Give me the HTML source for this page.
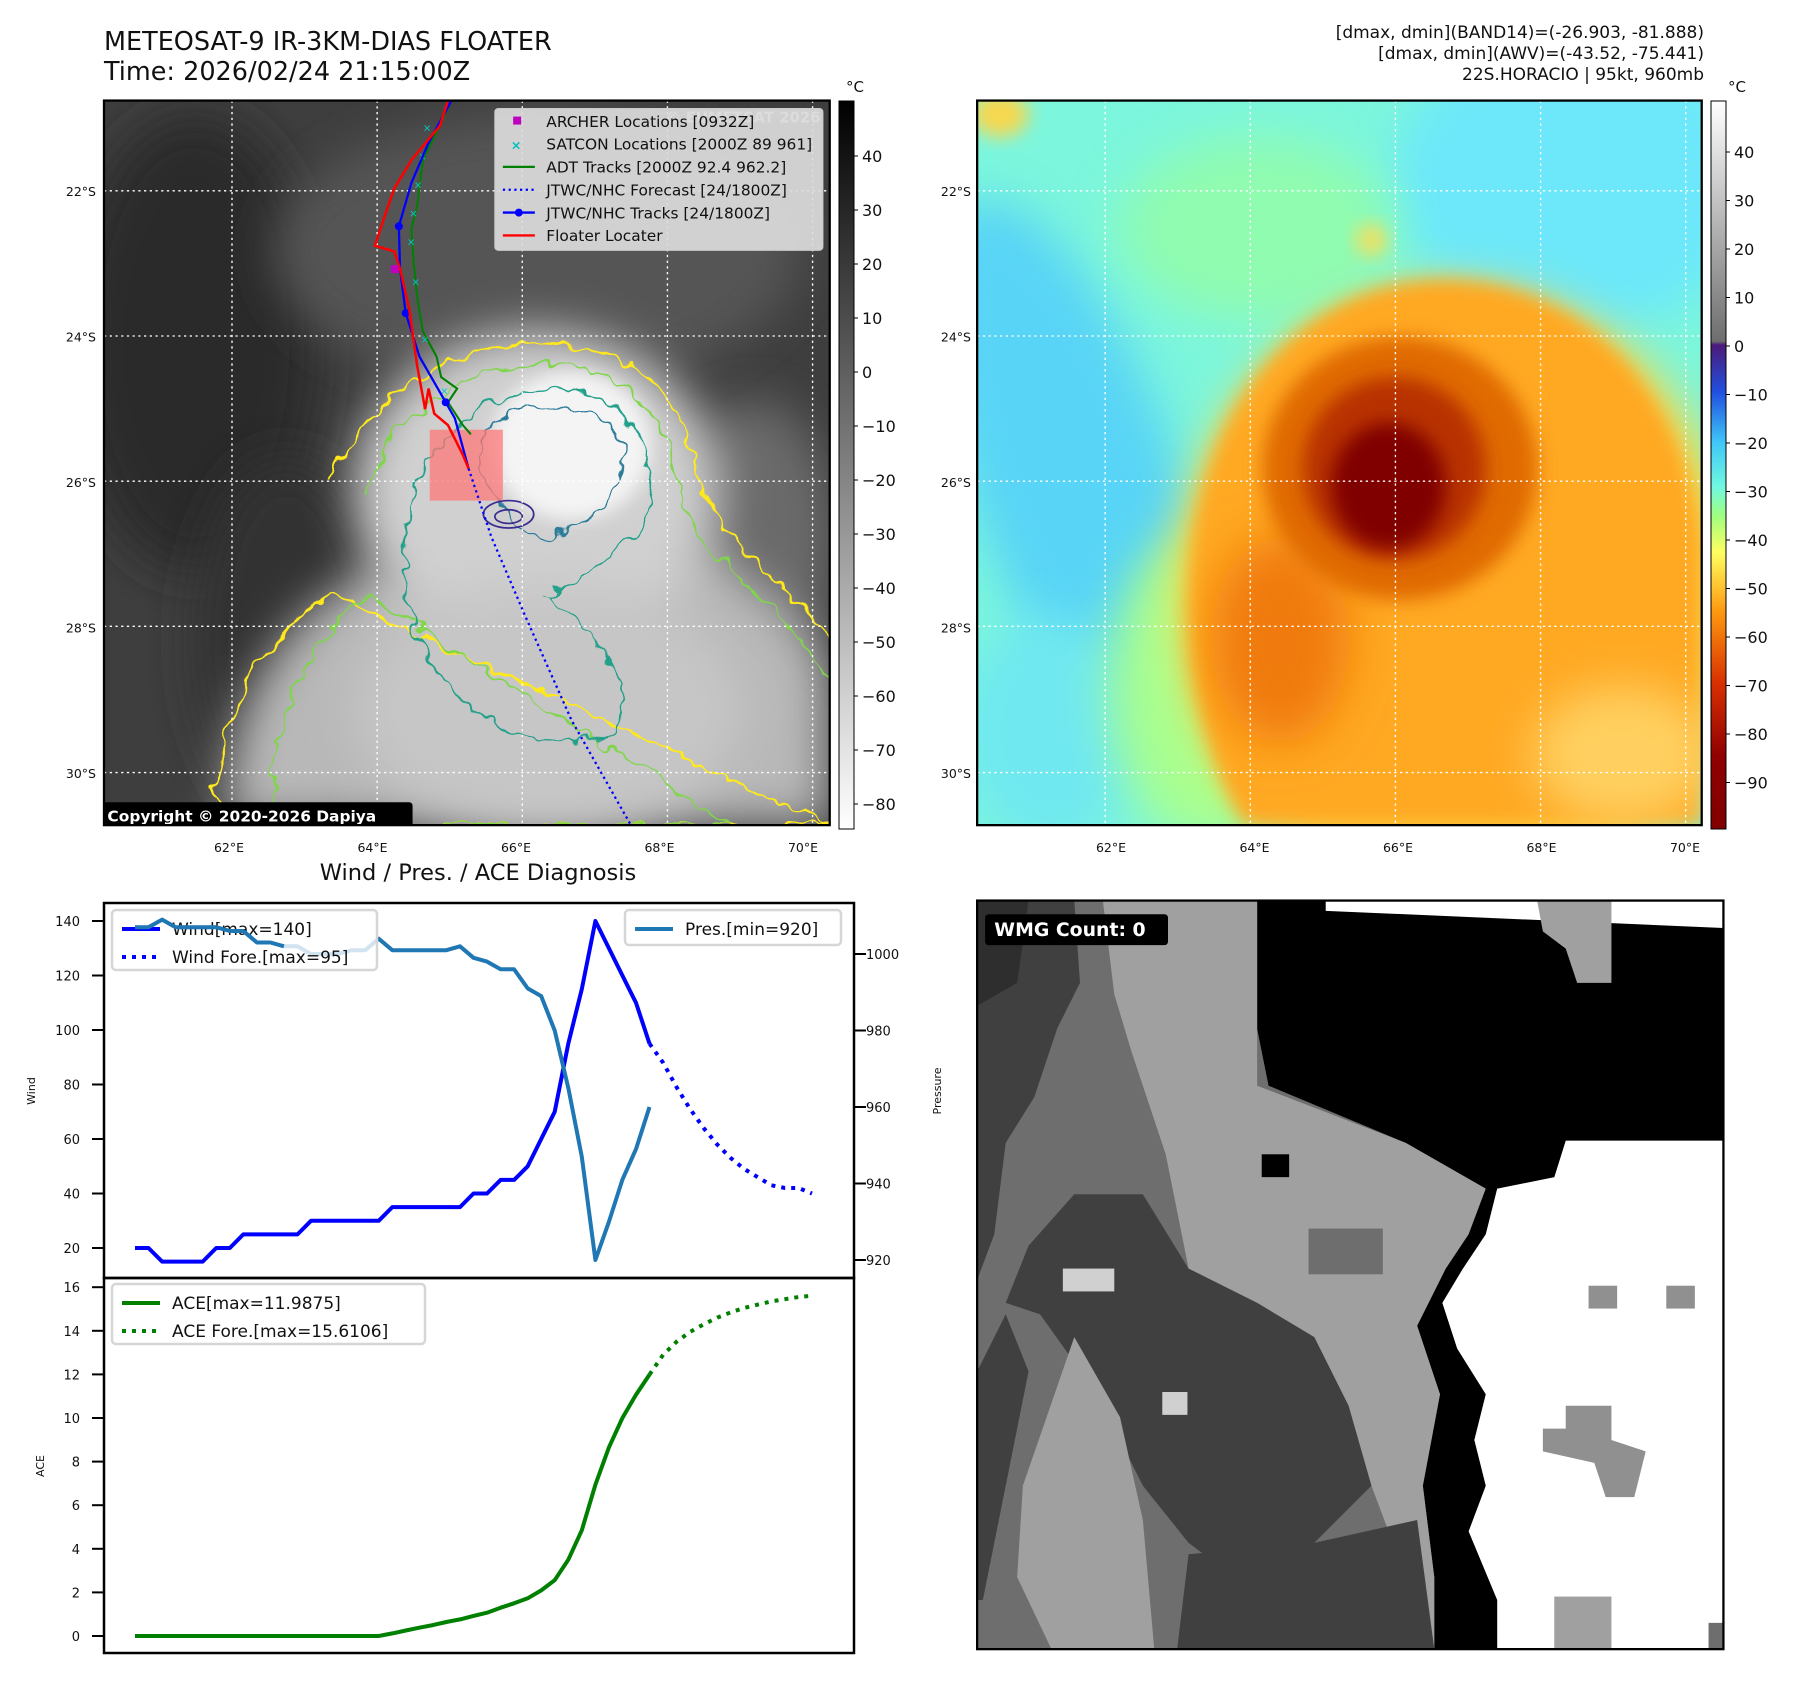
<!DOCTYPE html>
<html><head><meta charset="utf-8">
<style>
html,body{margin:0;padding:0;background:#fff;}
body{width:1797px;height:1690px;overflow:hidden;font-family:"Liberation Sans","DejaVu Sans",sans-serif;}
svg{position:absolute;left:0;top:0;}
text{font-family:"DejaVu Sans","Liberation Sans",sans-serif;}
</style></head>
<body>
<svg id="fig" width="1797" height="1690" viewBox="0 0 1797 1690">
<defs>
<filter id="blur8" x="-30%" y="-30%" width="160%" height="160%"><feGaussianBlur stdDeviation="8"/></filter>
<filter id="blur20" x="-30%" y="-30%" width="160%" height="160%"><feGaussianBlur stdDeviation="20"/></filter>
<filter id="wobble" x="-10%" y="-10%" width="120%" height="120%"><feTurbulence type="fractalNoise" baseFrequency="0.06" numOctaves="2" seed="3"/><feDisplacementMap in="SourceGraphic" scale="18" xChannelSelector="R" yChannelSelector="G"/></filter>
<clipPath id="clipL"><rect x="91" y="88" width="635" height="634"/></clipPath>
<clipPath id="clipR"><rect x="855" y="88" width="634" height="634"/></clipPath>
<clipPath id="clipB"><rect x="855" y="788" width="653" height="655"/></clipPath>
<linearGradient id="cbGray" x1="0" y1="0" x2="0" y2="1"><stop offset="0" stop-color="#000"/><stop offset="1" stop-color="#fff"/></linearGradient>
<linearGradient id="cbColor" x1="0" y1="0" x2="0" y2="1">
<stop offset="0" stop-color="#ffffff"/><stop offset="0.33" stop-color="#6e6e6e"/><stop offset="0.335" stop-color="#4b1a7a"/><stop offset="0.4" stop-color="#2050e0"/><stop offset="0.47" stop-color="#40c8f8"/><stop offset="0.53" stop-color="#70f8e0"/><stop offset="0.57" stop-color="#a0ff80"/><stop offset="0.62" stop-color="#ffff60"/><stop offset="0.7" stop-color="#ff9a10"/><stop offset="0.8" stop-color="#d83000"/><stop offset="0.9" stop-color="#900000"/><stop offset="1" stop-color="#800000"/></linearGradient>
</defs>

<g transform="scale(1.142857)">
 <g clip-path="url(#clipL)">
  <rect x="91" y="88" width="635" height="634" fill="#3e3e3e"/>
  <ellipse cx="170" cy="300" rx="110" ry="200" fill="#2c2c2c" filter="url(#blur20)"/>
  <ellipse cx="250" cy="560" rx="80" ry="160" fill="#333" filter="url(#blur20)"/>
  <ellipse cx="470" cy="220" rx="230" ry="120" fill="#555" filter="url(#blur20)"/>
  <ellipse cx="660" cy="470" rx="70" ry="120" fill="#6a6a6a" filter="url(#blur20)"/>
  <path d="M200,722 C190,620 250,540 320,500 L600,470 C680,520 726,560 726,600 L726,722 Z" fill="#b8b8b8" filter="url(#blur20)"/>
  <ellipse cx="470" cy="430" rx="160" ry="140" fill="#d0d0d0" filter="url(#blur20)"/>
  <ellipse cx="480" cy="620" rx="170" ry="110" fill="#c6c6c6" filter="url(#blur20)"/>
  <ellipse cx="500" cy="390" rx="70" ry="65" fill="#f4f4f4" filter="url(#blur8)"/>
  <g fill="none" filter="url(#wobble)">
   <path d="M290,420 C330,330 420,300 470,300 C560,300 600,350 610,420 C640,500 720,530 726,560 M726,722 L190,722 C180,650 220,560 290,520 Z" stroke="#ffe81a" stroke-width="2"/>
   <path d="M320,430 C350,345 430,318 475,318 C550,318 590,360 592,430 C620,500 700,540 726,600 M640,722 L240,722 C235,640 260,570 320,520 Z" stroke="#7fd64a" stroke-width="1.6"/>
   <path d="M360,440 C380,370 440,340 480,340 C540,340 570,380 570,430 C570,470 520,500 480,520 C520,560 560,600 540,640 C500,660 420,640 390,600 C360,560 340,500 360,440 Z" stroke="#22a08a" stroke-width="1.6"/>
   <path d="M420,380 C450,350 520,345 540,380 C560,420 520,460 480,470 C450,470 420,430 420,380 Z" stroke="#2a7a98" stroke-width="1.4"/>
  </g>
  <ellipse cx="445" cy="450" rx="22" ry="12" fill="none" stroke="#3b2a8f" stroke-width="1.5"/>
  <ellipse cx="445" cy="452" rx="12" ry="6" fill="none" stroke="#3b2a8f" stroke-width="1.5"/>
  <g stroke="#fff" stroke-width="1.2" stroke-dasharray="2,3">
   <line x1="203" y1="88" x2="203" y2="722"/><line x1="330" y1="88" x2="330" y2="722"/><line x1="457" y1="88" x2="457" y2="722"/><line x1="584" y1="88" x2="584" y2="722"/><line x1="711" y1="88" x2="711" y2="722"/>
   <line x1="91" y1="167" x2="726" y2="167"/><line x1="91" y1="294" x2="726" y2="294"/><line x1="91" y1="421" x2="726" y2="421"/><line x1="91" y1="548" x2="726" y2="548"/><line x1="91" y1="676" x2="726" y2="676"/>
  </g>
  <rect x="376" y="376" width="64" height="62" fill="#ff7878" opacity="0.75"/>
  <polyline points="410,410 430,470 460,540 500,630 552,722" fill="none" stroke="#0000ff" stroke-width="2" stroke-dasharray="2,3"/>
  <polyline points="395,88 380,120 370,140 365,180 360,200 362,230 365,260 370,290 382,312 386,330 400,340 392,352 405,372 412,380" fill="none" stroke="#008000" stroke-width="1.8"/>
  <g fill="#00c8c8" font-size="9"><text x="370" y="115">×</text><text x="366" y="140">×</text><text x="362" y="165">×</text><text x="358" y="190">×</text><text x="356" y="215">×</text><text x="360" y="250">×</text><text x="368" y="300">×</text><text x="385" y="345">×</text></g>
  <polyline points="395,88 375,125 360,160 349,198 350,235 355,274 367,312 390,352 398,366 410,410" fill="none" stroke="#0000ff" stroke-width="2"/>
  <g fill="#0000ff"><circle cx="349" cy="198" r="3.5"/><circle cx="355" cy="274" r="3.5"/><circle cx="390" cy="352" r="3.5"/></g>
  <polyline points="392,88 385,110 375,122 360,140 345,165 338,185 328,215 345,220 350,235 358,270 365,320 372,358 375,340 380,362 392,372 405,398 410,410" fill="none" stroke="#ff0000" stroke-width="2.2"/>
  <rect x="342" y="232" width="7" height="7" fill="#c000c0"/>
  <text x="718" y="107" text-anchor="end" font-size="13" font-weight="bold" fill="#d8d8d8">© EUMETSAT 2026</text>
  <g>
   <rect x="433" y="95" width="287" height="124" rx="3" fill="#dcdcdc" fill-opacity="0.92" stroke="#ccc"/>
   <rect x="449" y="102" width="7" height="7" fill="#c000c0"/>
   <text x="447" y="131" font-size="11" fill="#00c0c0" font-weight="bold">×</text>
   <line x1="440" y1="146" x2="468" y2="146" stroke="#008000" stroke-width="2"/>
   <line x1="440" y1="166" x2="468" y2="166" stroke="#0000ff" stroke-width="2" stroke-dasharray="2,3"/>
   <line x1="440" y1="186" x2="468" y2="186" stroke="#0000ff" stroke-width="2"/><circle cx="454" cy="186" r="3.5" fill="#0000ff"/>
   <line x1="440" y1="206" x2="468" y2="206" stroke="#ff0000" stroke-width="2"/>
   <g font-size="13.5" fill="#111">
    <text x="478" y="111">ARCHER Locations [0932Z]</text>
    <text x="478" y="131">SATCON Locations [2000Z 89 961]</text>
    <text x="478" y="151">ADT Tracks [2000Z 92.4 962.2]</text>
    <text x="478" y="171">JTWC/NHC Forecast [24/1800Z]</text>
    <text x="478" y="191">JTWC/NHC Tracks [24/1800Z]</text>
    <text x="478" y="211">Floater Locater</text>
   </g>
  </g>
  <g>
   <rect x="88" y="702" width="273" height="24" rx="3" fill="#000"/>
   <text x="94" y="719" font-size="13.5" font-weight="bold" fill="#fff">Copyright © 2020-2026 Dapiya</text>
  </g>
 </g>
 <rect x="91" y="88" width="635" height="634" fill="none" stroke="#000" stroke-width="2"/>

 <g clip-path="url(#clipR)">
  <rect x="855" y="88" width="634" height="634" fill="#7cf6dc"/>
  <ellipse cx="1380" cy="160" rx="160" ry="130" fill="#6ce8fa" filter="url(#blur20)"/>
  <ellipse cx="940" cy="420" rx="90" ry="260" fill="#58d4f6" filter="url(#blur20)" transform="rotate(-20 940 420)"/>
  <ellipse cx="920" cy="640" rx="80" ry="100" fill="#70e8f0" filter="url(#blur20)"/>
  <ellipse cx="1100" cy="200" rx="120" ry="80" fill="#90fcb0" filter="url(#blur20)"/>
  <ellipse cx="1060" cy="600" rx="90" ry="140" fill="#a8ff90" filter="url(#blur20)"/>
  <ellipse cx="875" cy="100" rx="25" ry="20" fill="#f8d850" filter="url(#blur8)"/>
  <ellipse cx="1200" cy="210" rx="14" ry="14" fill="#f0e060" filter="url(#blur8)"/>
  <ellipse cx="1275" cy="520" rx="245" ry="270" fill="#f8d848" filter="url(#blur20)"/>
  <path d="M1040,520 C1040,360 1140,240 1270,245 C1400,250 1480,360 1489,480 L1489,722 L1090,722 C1060,680 1040,600 1040,520 Z" fill="#ffa820" filter="url(#blur8)"/>
  <ellipse cx="1420" cy="660" rx="80" ry="60" fill="#ffd060" filter="url(#blur20)"/>
  <ellipse cx="1120" cy="560" rx="60" ry="90" fill="#f07a10" filter="url(#blur20)"/>
  <ellipse cx="1225" cy="410" rx="120" ry="115" fill="#e06a00" filter="url(#blur8)"/>
  <ellipse cx="1220" cy="410" rx="80" ry="80" fill="#b83000" filter="url(#blur8)"/>
  <ellipse cx="1215" cy="425" rx="50" ry="55" fill="#800000" filter="url(#blur8)"/>
  <g stroke="#fff" stroke-width="1.2" stroke-dasharray="2,3">
   <line x1="967" y1="88" x2="967" y2="722"/><line x1="1094" y1="88" x2="1094" y2="722"/><line x1="1221" y1="88" x2="1221" y2="722"/><line x1="1348" y1="88" x2="1348" y2="722"/><line x1="1475" y1="88" x2="1475" y2="722"/>
   <line x1="855" y1="167" x2="1489" y2="167"/><line x1="855" y1="294" x2="1489" y2="294"/><line x1="855" y1="421" x2="1489" y2="421"/><line x1="855" y1="548" x2="1489" y2="548"/><line x1="855" y1="676" x2="1489" y2="676"/>
  </g>
 </g>
 <rect x="855" y="88" width="634" height="634" fill="none" stroke="#000" stroke-width="2"/>

 <g clip-path="url(#clipB)">
  <rect x="855" y="788" width="653" height="655" fill="#6e6e6e"/>
  <polygon points="1508,990 1370,998 1360,1030 1310,1040 1300,1080 1280,1110 1262,1140 1275,1180 1300,1220 1290,1260 1300,1300 1285,1340 1310,1400 1310,1443 1508,1443" fill="#fff"/>
  <polygon points="1100,788 1508,788 1508,998 1370,998 1360,1030 1310,1040 1300,1080 1280,1110 1262,1140 1275,1180 1300,1220 1290,1260 1300,1300 1285,1340 1310,1400 1310,1443 1255,1443 1255,1380 1245,1300 1260,1220 1240,1160 1265,1110 1285,1080 1300,1040 1230,1000 1110,950 1100,900" fill="#000"/>
  <polygon points="1160,788 1508,788 1508,812 1160,797" fill="#fff"/>
  <polygon points="1345,788 1410,788 1410,860 1380,860 1370,830 1350,815" fill="#a0a0a0"/>
  <polygon points="965,788 1100,788 1100,950 1230,1000 1300,1040 1285,1080 1265,1110 1240,1160 1260,1220 1245,1300 1255,1380 1255,1443 1230,1443 1230,1380 1200,1300 1180,1230 1150,1170 1100,1140 1040,1110 1020,1010 990,920 975,870" fill="#a0a0a0"/>
  <polygon points="855,788 940,788 945,860 925,900 905,960 880,1000 870,1080 855,1120" fill="#404040"/>
  <polygon points="855,788 900,788 890,860 855,880" fill="#2e2e2e"/>
  <polygon points="940,1045 1000,1045 1040,1110 1100,1140 1150,1170 1180,1230 1200,1300 1150,1350 1080,1380 1040,1350 1000,1300 960,1220 910,1150 880,1140 900,1090" fill="#404040"/>
  <polygon points="895,1300 940,1170 980,1240 1000,1330 1010,1443 920,1443 890,1380" fill="#a0a0a0"/>
  <polygon points="855,1200 880,1150 900,1200 880,1300 860,1400 855,1400" fill="#404040"/>
  <polygon points="1040,1360 1150,1350 1240,1330 1255,1443 1030,1443" fill="#404040"/>
  <rect x="1145" y="1075" width="65" height="40" fill="#6e6e6e"/>
  <rect x="1104" y="1010" width="24" height="20" fill="#000"/>
  <rect x="930" y="1110" width="45" height="20" fill="#d0d0d0"/>
  <rect x="1017" y="1218" width="22" height="20" fill="#d0d0d0"/>
  <rect x="1390" y="1125" width="25" height="20" fill="#909090"/>
  <rect x="1458" y="1125" width="25" height="20" fill="#909090"/>
  <polygon points="1370,1230 1410,1230 1410,1260 1440,1270 1430,1310 1405,1310 1395,1280 1350,1270 1350,1250 1370,1250" fill="#909090"/>
  <rect x="1360" y="1397" width="50" height="46" fill="#a0a0a0"/>
  <rect x="1495" y="1420" width="13" height="23" fill="#6e6e6e"/>
  <rect x="862" y="800" width="160" height="27" rx="3" fill="#000"/>
  <text x="870" y="819" font-size="16.5" font-weight="bold" fill="#fff">WMG Count: 0</text>
 </g>
 <rect x="855" y="788" width="653" height="655" fill="none" stroke="#000" stroke-width="2"/>
</g>

<g fill="#111">
 <text x="104" y="50" font-size="25.5">METEOSAT-9 IR-3KM-DIAS FLOATER</text>
 <text x="104" y="80" font-size="25.5">Time: 2026/02/24 21:15:00Z</text>
 <g font-size="17" text-anchor="end">
  <text x="1704" y="38">[dmax, dmin](BAND14)=(-26.903, -81.888)</text>
  <text x="1704" y="59">[dmax, dmin](AWV)=(-43.52, -75.441)</text>
  <text x="1704" y="80">22S.HORACIO | 95kt, 960mb</text>
 </g>
 <text x="478" y="880" font-size="22.5" text-anchor="middle">Wind / Pres. / ACE Diagnosis</text>
</g>

<rect x="839" y="101" width="15" height="728" fill="url(#cbGray)" stroke="#000" stroke-width="1"/>
<text x="846" y="92" font-size="15" fill="#111">°C</text>
<rect x="1711" y="101" width="15" height="728" fill="url(#cbColor)" stroke="#000" stroke-width="1"/>
<text x="1728" y="92" font-size="15" fill="#111">°C</text>

<g id="chart"></g>
</svg>

<script>
var cbLeftTicks = [40,30,20,10,0,-10,-20,-30,-40,-50,-60,-70,-80];
var cbRightTicks = [40,30,20,10,0,-10,-20,-30,-40,-50,-60,-70,-80,-90];
var lonTicks = ["62°E","64°E","66°E","68°E","70°E"];
var latTicks = ["22°S","24°S","26°S","28°S","30°S"];
var windObs = [20,20,15,15,15,15,20,20,25,25,25,25,25,30,30,30,30,30,30,35,35,35,35,35,35,40,40,45,45,50,60,70,95,115,140,130,120,110,95];
var windFore = [95,88,79,71,64,58,53,49,46,43,42,42,40];
var presObs = [1007,1007,1009,1007,1007,1007,1007,1006,1006,1003,1003,1002,1002,1000,1000,1000,1001,1001,1004,1001,1001,1001,1001,1001,1002,999,998,996,996,991,989,980,965,947,920,930,941,949,960];
var aceObs = [0,0,0,0,0,0,0,0,0,0,0,0,0,0,0,0,0,0,0,0.12,0.25,0.38,0.5,0.64,0.76,0.92,1.07,1.3,1.5,1.73,2.09,2.56,3.5,4.85,6.94,8.65,10.0,11.07,11.99];
var aceFore = [11.99,12.9,13.5,13.95,14.3,14.6,14.85,15.05,15.2,15.35,15.45,15.55,15.61];
var windTicks = [20,40,60,80,100,120,140];
var presTicks = [920,940,960,980,1000];
var aceTicks = [0,2,4,6,8,10,12,14,16];

var NS='http://www.w3.org/2000/svg';
var chart=document.getElementById('chart');
function mk(tag,attrs,parent){var e=document.createElementNS(NS,tag);for(var k in attrs)e.setAttribute(k,attrs[k]);(parent||chart).appendChild(e);return e;}
function txt(x,y,s,size,anchor,parent){var t=mk('text',{x:x,y:y,'font-size':size,'text-anchor':anchor||'start',fill:'#111'},parent);t.textContent=s;return t;}

cbLeftTicks.forEach(function(v){
  var y=156+(40-v)*5.4;
  mk('line',{x1:854,y1:y,x2:858,y2:y,stroke:'#000','stroke-width':1});
  var t=txt(862,y+6,(v<0?'\u2212':'')+Math.abs(v),16);
  
  
});
cbRightTicks.forEach(function(v){
  var y=152+(40-v)*4.85;
  mk('line',{x1:1726,y1:y,x2:1730,y2:y,stroke:'#000','stroke-width':1});
  var t=txt(1734,y+6,(v<0?'\u2212':'')+Math.abs(v),16);
  
  
});
lonTicks.forEach(function(s,i){
  var t1=txt(229+i*143.5,852,s,12.5,'middle');
  
  
  var t2=txt(1111+i*143.5,852,s,12.5,'middle');
  
  
});
latTicks.forEach(function(s,i){
  var y=191+i*145.5;
  var t1=txt(96,y+5,s,12.5,'end');
  
  
  var t2=txt(971,y+5,s,12.5,'end');
  
  
});

function xs(i){return 135+i*13.54;}
function yw(w){return 921+(140-w)*2.725;}
function yp(p){return 1260-(p-920)*3.825;}
function ya(a){return 1636-a*21.8;}
var AL=104,AR=854,AT=903,AM=1278,AB=1653;

windTicks.forEach(function(v){var y=yw(v);mk('line',{x1:AL-12,y1:y,x2:AL,y2:y,stroke:'#000','stroke-width':2});var t=txt(80,y+5,String(v),13,'end');});
presTicks.forEach(function(v){var y=yp(v);mk('line',{x1:AR,y1:y,x2:AR+12,y2:y,stroke:'#000','stroke-width':2});var t=txt(866,y+5,String(v),13,'start');});
aceTicks.forEach(function(v){var y=ya(v);mk('line',{x1:AL-12,y1:y,x2:AL,y2:y,stroke:'#000','stroke-width':2});var t=txt(80,y+5,String(v),13,'end');});
var yl1=txt(0,0,'Wind',11,'middle');yl1.setAttribute('transform','translate(35,1091) rotate(-90)');


var yl2=txt(0,0,'Pressure',11,'middle');yl2.setAttribute('transform','translate(941,1091) rotate(-90)');


var yl3=txt(0,0,'ACE',11,'middle');yl3.setAttribute('transform','translate(44,1466) rotate(-90)');



function pts(arr,off,fy){return arr.map(function(v,i){return xs(i+off).toFixed(1)+','+fy(v).toFixed(1);}).join(' ');}
var l;
l=mk('polyline',{points:pts(windObs,0,yw),fill:'none',stroke:'#0000ff','stroke-width':4,'stroke-linejoin':'round'});


l=mk('polyline',{points:pts(windFore,windObs.length-1,yw),fill:'none',stroke:'#0000ff','stroke-width':4,'stroke-dasharray':'4,6'});


l=mk('polyline',{points:pts(presObs,0,yp),fill:'none',stroke:'#1f77b4','stroke-width':4,'stroke-linejoin':'round'});


l=mk('polyline',{points:pts(aceObs,0,ya),fill:'none',stroke:'#008000','stroke-width':4,'stroke-linejoin':'round'});


l=mk('polyline',{points:pts(aceFore,aceObs.length-1,ya),fill:'none',stroke:'#008000','stroke-width':4,'stroke-dasharray':'4,6'});



mk('rect',{x:AL,y:AT,width:AR-AL,height:AM-AT,fill:'none',stroke:'#000','stroke-width':2.5});
mk('rect',{x:AL,y:AM,width:AR-AL,height:AB-AM,fill:'none',stroke:'#000','stroke-width':2.5});

function legend(x,y,w,h,items,name){
  var g=mk('g',{});
  
  
  mk('rect',{x:x,y:y,width:w,height:h,rx:4,fill:'#fff','fill-opacity':0.8,stroke:'#d6d6d6','stroke-width':2.5},g);
  items.forEach(function(it,i){
    var cy=y+19+i*28;
    var a={x1:x+10,y1:cy,x2:x+48,y2:cy,stroke:it.c,'stroke-width':4};
    if(it.d)a['stroke-dasharray']='4,6';
    mk('line',a,g);
    txt(x+60,cy+6,it.t,17,'start',g);
  });
}
legend(112,910,265,60,[{c:'#0000ff',t:'Wind[max=140]'},{c:'#0000ff',d:1,t:'Wind Fore.[max=95]'}],'wind-legend');
legend(625,910,216,35,[{c:'#1f77b4',t:'Pres.[min=920]'}],'pressure-legend');
legend(112,1284,313,60,[{c:'#008000',t:'ACE[max=11.9875]'},{c:'#008000',d:1,t:'ACE Fore.[max=15.6106]'}],'ace-legend');
l=mk('polyline',{points:pts(presObs.slice(0,12),0,yp),fill:'none',stroke:'#1f77b4','stroke-width':4,'stroke-linejoin':'round'});


</script>
</body></html>
